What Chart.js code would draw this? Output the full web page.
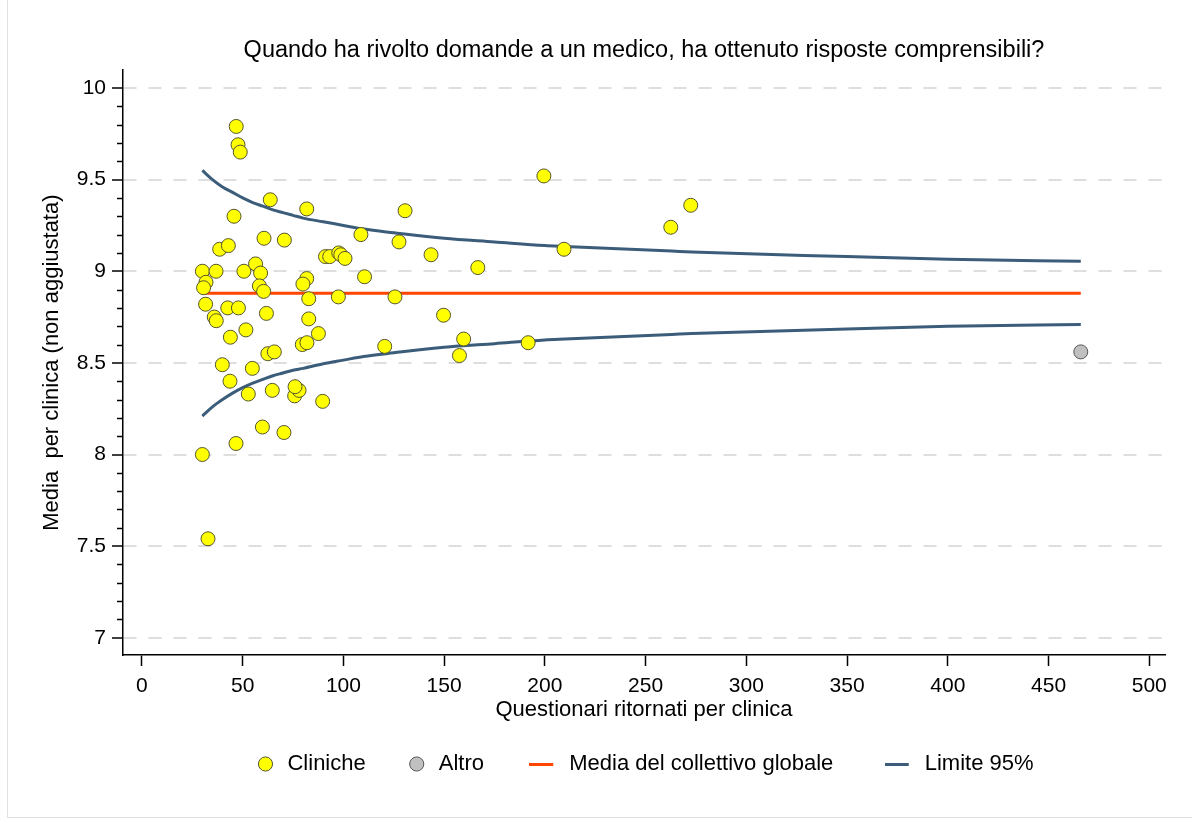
<!DOCTYPE html>
<html>
<head>
<meta charset="utf-8">
<script src="https://cdn.jsdelivr.net/npm/chart.js@4.4.0/dist/chart.umd.min.js"></script>
<style>
  html, body { margin: 0; padding: 0; background: #fff; }
  #wrap { position: relative; width: 1192px; height: 823px; overflow: hidden; }
  #frame { position: absolute; left: 7px; top: -2px; width: 1200px; height: 820px; border: 1px solid #e2e2e2; box-sizing: border-box; pointer-events: none; }
  canvas { position: absolute; left: 0; top: 0; }
</style>
</head>
<body>
<div id="wrap">
  <div id="frame"></div>
  <canvas id="myChart" width="1192" height="823"></canvas>
</div>
<script>
// clinics: returned questionnaires (x) and unadjusted mean (y)
const clinicN = [46.8, 47.7, 48.8, 63.7, 45.7, 81.8, 60.6, 70.7, 38.6, 42.9,
    108.7, 91.1, 93.2, 97.7, 98.7, 100.8, 30.0, 36.8, 50.6, 56.4,
    58.9, 81.8, 110.5, 31.8, 30.6, 58.3, 60.4, 79.9, 31.6, 82.8,
    97.5, 42.6, 47.9, 35.9, 36.9, 61.8, 82.8, 87.6, 51.6, 43.9,
    79.6, 81.9, 62.5, 65.7, 39.9, 54.8, 43.7, 52.8, 64.7, 75.8,
    78.0, 76.0, 89.7, 59.8, 70.5, 46.7, 30.0, 32.8, 130.6, 127.6,
    143.5, 166.7, 125.6, 149.7, 120.5, 159.7, 157.6, 199.5, 209.5, 262.5,
    272.4, 191.7]
const clinicMean = [9.79, 9.69, 9.65, 9.39, 9.30, 9.34, 9.18, 9.17, 9.12, 9.14,
    9.20, 9.08, 9.08, 9.10, 9.09, 9.07, 9.00, 9.00, 9.00, 9.04,
    8.99, 8.96, 8.97, 8.94, 8.91, 8.92, 8.89, 8.93, 8.82, 8.85,
    8.86, 8.80, 8.80, 8.75, 8.73, 8.77, 8.74, 8.66, 8.68, 8.64,
    8.60, 8.61, 8.55, 8.56, 8.49, 8.47, 8.40, 8.33, 8.35, 8.32,
    8.35, 8.37, 8.29, 8.15, 8.12, 8.06, 8.00, 7.54, 9.33, 9.16,
    9.09, 9.02, 8.86, 8.76, 8.59, 8.63, 8.54, 9.52, 9.12, 9.24,
    9.36, 8.61]

const otherN = [466]
const otherMean = [8.56]

const meanN = [30, 466]
const globalMean = 8.88

// 95% limits
const limitN = [30, 35, 40, 45, 50, 55, 60, 65, 70, 75, 80, 90, 100, 110, 125, 150, 175, 200, 210, 263, 273, 350, 400, 466]
const upperLimit = [9.55, 9.50, 9.46, 9.43, 9.40, 9.375, 9.355, 9.335, 9.32, 9.305, 9.29, 9.27, 9.25, 9.23, 9.21, 9.18, 9.16, 9.14, 9.135, 9.11, 9.105, 9.08, 9.065, 9.055]
const lowerLimit = [8.21, 8.26, 8.30, 8.335, 8.365, 8.39, 8.41, 8.43, 8.445, 8.46, 8.47, 8.495, 8.515, 8.535, 8.555, 8.585, 8.605, 8.625, 8.63, 8.655, 8.66, 8.685, 8.70, 8.71]

const yMinorTicks = [7.1, 7.2, 7.3, 7.4, 7.6, 7.7, 7.8, 7.9, 8.1, 8.2, 8.3, 8.4, 8.6, 8.7, 8.8, 8.9,
    9.1, 9.2, 9.3, 9.4, 9.6, 9.7, 9.8, 9.9]

const yellow = '#ffff00'
const grey = '#c0c0c0'
const red = '#ff4500'
const blue = '#3b5d7a'

const toPoints = (xs, ys) => xs.map((v, i) => ({x: v, y: ys[i]}))

// short line used as legend symbol
const lineIcon = color => {
    const c = document.createElement('canvas')
    c.width = 36
    c.height = 3
    const g = c.getContext('2d')
    g.fillStyle = color
    g.fillRect(0, 0, 24, 3)
    return c
}

// extra room after some legend entries (the line entries sit further apart)
const legendTrail = ['', '  ', '   ', '']

const minorTicks = {
    id: 'minorTicks',
    afterDraw(chart) {
        const y = chart.scales.y
        const ctx = chart.ctx
        ctx.save()
        ctx.strokeStyle = '#000'
        ctx.lineWidth = 1.5
        yMinorTicks.forEach(v => {
            const py = Math.round(y.getPixelForValue(v)) + 0.5
            ctx.beginPath()
            ctx.moveTo(y.right - 6, py)
            ctx.lineTo(y.right, py)
            ctx.stroke()
        })
        ctx.restore()
    }
}

Chart.defaults.font.family = '"Liberation Sans", Arial, sans-serif'
Chart.defaults.color = '#000'

const defaultLabels = Chart.defaults.plugins.legend.labels.generateLabels

const ctx = document.getElementById('myChart').getContext('2d')

const myChart = new Chart(ctx, {
    type: 'scatter',
    data: {
        datasets: [{
            label: 'Cliniche',
            data: toPoints(clinicN, clinicMean),
            backgroundColor: yellow,
            borderColor: '#55552e',
            borderWidth: 1,
            pointRadius: 7,
            pointHoverRadius: 7
        }, {
            label: 'Altro',
            data: toPoints(otherN, otherMean),
            backgroundColor: grey,
            borderColor: '#555555',
            borderWidth: 1,
            pointRadius: 7,
            pointHoverRadius: 7
        }, {
            label: 'Media del collettivo globale',
            data: meanN.map(n => ({x: n, y: globalMean})),
            showLine: true,
            borderColor: red,
            backgroundColor: red,
            borderWidth: 3,
            pointRadius: 0,
            pointStyle: lineIcon(red)
        }, {
            label: 'Limite 95%',
            data: toPoints(limitN, upperLimit),
            showLine: true,
            borderColor: blue,
            backgroundColor: blue,
            borderWidth: 3,
            pointRadius: 0,
            cubicInterpolationMode: 'monotone',
            pointStyle: lineIcon(blue)
        }, {
            label: 'Limite 95%',
            data: toPoints(limitN, lowerLimit),
            showLine: true,
            borderColor: blue,
            backgroundColor: blue,
            borderWidth: 3,
            pointRadius: 0,
            cubicInterpolationMode: 'monotone',
            pointStyle: lineIcon(blue)
        }]
    },
    options: {
        responsive: false,
        animation: false,
        devicePixelRatio: 1,
        layout: {
            padding: {left: 16, right: 27, top: 0, bottom: 38}
        },
        plugins: {
            title: {
                display: true,
                text: 'Quando ha rivolto domande a un medico, ha ottenuto risposte comprensibili?',
                font: {size: 23.5, weight: 'normal'},
                color: '#000',
                fullSize: false,
                padding: {top: 36, bottom: 6}
            },
            legend: {
                position: 'bottom',
                fullSize: false,
                labels: {
                    usePointStyle: true,
                    boxHeight: 10,
                    font: {size: 22},
                    color: '#000',
                    padding: 40,
                    filter: item => item.datasetIndex !== 4,
                    generateLabels: chart => defaultLabels(chart).map(item => {
                        item.text = item.text + (legendTrail[item.datasetIndex] || '')
                        return item
                    })
                }
            },
            tooltip: {enabled: false}
        },
        scales: {
            x: {
                type: 'linear',
                min: -9.4,
                max: 507.8,
                ticks: {
                    stepSize: 50,
                    includeBounds: false,
                    autoSkip: false,
                    maxRotation: 0,
                    font: {size: 21},
                    padding: 8,
                    callback: v => String(v)
                },
                grid: {
                    drawOnChartArea: false,
                    tickLength: 11,
                    tickColor: '#000',
                    tickWidth: 1.5
                },
                border: {color: '#000', width: 1.5},
                title: {
                    display: true,
                    text: 'Questionari ritornati per clinica',
                    font: {size: 22, lineHeight: 1},
                    padding: {top: -8.2, bottom: -8}
                }
            },
            y: {
                min: 6.906,
                max: 10.097,
                ticks: {
                    stepSize: 0.5,
                    includeBounds: false,
                    font: {size: 21},
                    padding: 6,
                    callback: v => String(v)
                },
                grid: {
                    color: '#dedede',
                    lineWidth: 2,
                    tickLength: 11,
                    tickColor: '#000',
                    tickWidth: 1.5
                },
                border: {color: '#000', width: 1.5, dash: [13, 12]},
                title: {
                    display: true,
                    text: 'Media  per clinica (non aggiustata)',
                    font: {size: 22},
                    padding: {top: 22.8, bottom: 5.6}
                }
            }
        }
    },
    plugins: [minorTicks]
})
</script>
</body>
</html>
